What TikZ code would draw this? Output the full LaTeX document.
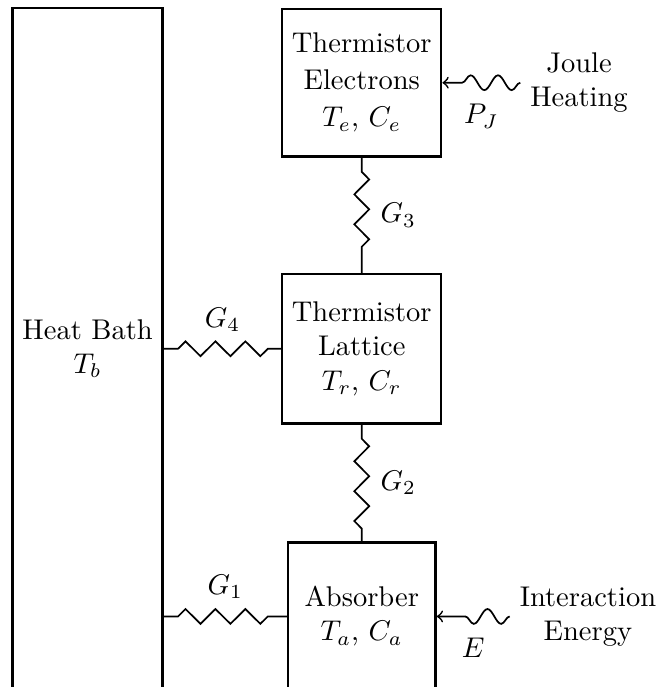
\documentclass[tikz,border=0pt]{standalone}
\usetikzlibrary{positioning, arrows, decorations.pathmorphing}

\tikzset{
  block/.style={draw, thick, align=center, minimum width=1.96cm, minimum height=1.82cm},
  spring/.style={semithick, decorate, decoration={zigzag, segment length=10.5pt, amplitude=2.6pt, pre length=5pt, post length=4pt}},
  heatflow/.style={semithick, ->, decorate, decoration={snake, segment length=9.6pt, amplitude=2.6pt, post length=5.5pt}}
}

\begin{document}
\begin{tikzpicture}
  \useasboundingbox (0,0) rectangle (8.18,8.47);
  \clip (0,0) rectangle (8.18,8.47);

  % bath and the three bodies
  \node[block, minimum width=1.85cm, minimum height=8.41cm] (bath) at (1.08,4.17) {Heat Bath\\$T_b$};
  \node[block] (electrons) at (4.46,7.45) {Thermistor\\[1pt]Electrons\\[1pt]$T_e$, $C_e$};
  \node[block, minimum height=1.84cm] (lattice) at (4.46,4.17) {Thermistor\\Lattice\\$T_r$, $C_r$};
  \node[block, minimum width=1.82cm] (absorber) at (4.46,0.87) {Absorber\\$T_a$, $C_a$};

  % thermal conductances
  \draw[spring] (electrons.south) -- node[right=3pt] {$G_3$} (lattice.north);
  \draw[spring] (lattice.south) -- node[right=3pt] {$G_2$} (absorber.north);
  \draw[spring] (lattice.west -| bath.east) -- node[above=2.5pt] {$G_4$} (lattice.west);
  \draw[spring] (absorber.west -| bath.east) -- node[above=2.5pt] {$G_1$} (absorber.west);

  % power inputs
  \coordinate[right=0.96cm of electrons.east] (jstart);
  \coordinate[right=0.9cm of absorber.east] (estart);
  \draw[heatflow] (jstart) -- node[below=4pt] {$P_J$} (electrons.east);
  \draw[heatflow] (estart) -- node[below=4pt] {$E$} (absorber.east);
  \node[right=0pt of jstart, align=center] (joule) {Joule\\Heating};
  \node[right=0pt of estart, align=center] (interaction) {Interaction\\Energy};
\end{tikzpicture}
\end{document}
